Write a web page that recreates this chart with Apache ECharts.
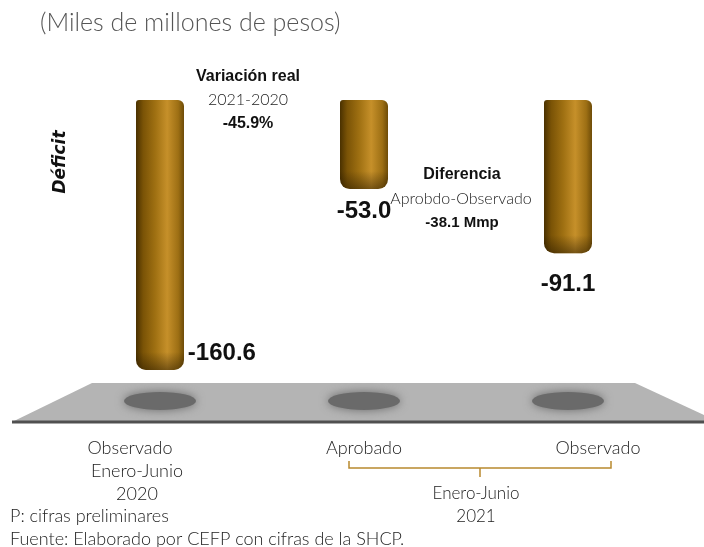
<!DOCTYPE html>
<html>
<head>
<meta charset="utf-8">
<script src="https://cdn.jsdelivr.net/npm/echarts@6/dist/echarts.min.js"></script>
<style>
html,body{margin:0;padding:0;background:#fff;}
#chart{width:704px;height:547px;}
</style>
</head>
<body>
<div id="chart"></div>
<script>
// ---- data ----
const categories = ['Observado 2020', 'Aprobado 2021', 'Observado 2021'];
const values = [-160.6, -53.0, -91.1];
const axisLines = [
  ['Observado', 'Enero-Junio', '2020'],
  ['Aprobado'],
  ['Observado']
];
const titleText = '(Miles de millones de pesos)';
const deficitText = 'Déficit';
const variacionLines = ['Variación real', '2021-2020', '-45.9%'];
const diferenciaLines = ['Diferencia', 'Aprobdo-Observado', '-38.1 Mmp'];
const groupLines = ['Enero-Junio', '2021'];
const noteLines = ['P: cifras preliminares', 'Fuente: Elaborado por CEFP con cifras de la SHCP.'];

const BOLD = "'Liberation Sans',Arial,sans-serif";
const LIGHT = "Lato,'Open Sans',sans-serif";
const Y_MIN = -170, GRID_H = 285.8;

const chart = echarts.init(document.getElementById('chart'));

const barGrad = new echarts.graphic.LinearGradient(0, 0, 1, 0, [
  {offset: 0, color: '#4a3100'},
  {offset: 0.15, color: '#7a5306'},
  {offset: 0.4, color: '#9f7012'},
  {offset: 0.65, color: '#c6902a'},
  {offset: 0.88, color: '#9d6f14'},
  {offset: 1, color: '#6e4c08'}
]);
function bottomShade(v) {
  const h = Math.abs(v) / -Y_MIN * GRID_H;
  const start = Math.max(0, 1 - 18 / h);
  return new echarts.graphic.LinearGradient(0, 0, 0, 1, [
    {offset: 0, color: 'rgba(40,25,0,0)'},
    {offset: start, color: 'rgba(40,25,0,0)'},
    {offset: 1, color: 'rgba(40,25,0,0.5)'}
  ]);
}

const labelPos = [
  {position: ['108%', '94%'], align: 'left', verticalAlign: 'middle'},
  {position: 'bottom', distance: 10},
  {position: 'bottom', distance: 19}
];

function axisFmt(value, idx) {
  const lines = axisLines[idx];
  if (idx === 0) {
    return lines.map((l, i) => i === 0 ? '{a|' + l + '}' : '{b|' + l + '}').join('\n');
  }
  if (idx === 2) return '{c|' + lines[0] + '}';
  return '{n|' + lines[0] + '}';
}

const base = {fontFamily: LIGHT, fontWeight: 300, fontSize: 18, color: '#222', lineHeight: 23};
const lblRich = {
  a: Object.assign({padding: [0, 60, 0, 0]}, base),
  b: Object.assign({padding: [0, 46, 0, 0]}, base),
  c: Object.assign({padding: [0, 0, 0, 60]}, base),
  n: Object.assign({}, base)
};

const option = {
  animation: false,
  grid: [
    {left: 58, right: 34, top: 100, height: GRID_H},
    {left: 58, right: 34, top: 383, height: 39}
  ],
  xAxis: [
    {gridIndex: 0, type: 'category', data: categories, show: false},
    {gridIndex: 1, type: 'category', data: categories,
     axisLine: {show: false}, axisTick: {show: false},
     axisLabel: {margin: 15, formatter: axisFmt, rich: lblRich, interval: 0}}
  ],
  yAxis: [
    {gridIndex: 0, type: 'value', min: Y_MIN, max: 0, show: false},
    {gridIndex: 1, type: 'value', min: 0, max: 1, show: false}
  ],
  graphic: [
    {type: 'polygon', z: 0, silent: true,
     shape: {points: [[92, 383], [635, 383], [704, 415], [704, 422], [12, 422]]},
     style: {fill: '#b4b4b4'}},
    {type: 'line', z: 1, silent: true,
     shape: {x1: 12, y1: 422, x2: 704, y2: 422},
     style: {stroke: '#505050', lineWidth: 3}},
    {type: 'text', x: 40, y: 23, z: 5,
     style: {text: titleText, font: '300 25px ' + LIGHT, fill: '#555', verticalAlign: 'middle'}},
    {type: 'text', x: 61, y: 162, rotation: Math.PI / 2, z: 5,
     style: {text: deficitText, font: 'italic bold 17px ' + "'DejaVu Sans',sans-serif", fill: '#111', align: 'center', verticalAlign: 'middle'}},
    {type: 'text', x: 248, y: 77, z: 5, style: {text: variacionLines[0], font: 'bold 16px ' + BOLD, fill: '#111', align: 'center', verticalAlign: 'middle'}},
    {type: 'text', x: 248, y: 100, z: 5, style: {text: variacionLines[1], font: '300 16px ' + LIGHT, fill: '#222', align: 'center', verticalAlign: 'middle'}},
    {type: 'text', x: 248, y: 124, z: 5, style: {text: variacionLines[2], font: 'bold 16px ' + BOLD, fill: '#111', align: 'center', verticalAlign: 'middle'}},
    {type: 'text', x: 462, y: 175, z: 5, style: {text: diferenciaLines[0], font: 'bold 16px ' + BOLD, fill: '#111', align: 'center', verticalAlign: 'middle'}},
    {type: 'text', x: 461, y: 199, z: 5, style: {text: diferenciaLines[1], font: '300 16px ' + LIGHT, fill: '#222', align: 'center', verticalAlign: 'middle'}},
    {type: 'text', x: 462, y: 223, z: 5, style: {text: diferenciaLines[2], font: 'bold 15px ' + BOLD, fill: '#111', align: 'center', verticalAlign: 'middle'}},
    {type: 'polyline', z: 5, silent: true,
     shape: {points: [[349, 461], [349, 468], [611, 468], [611, 461]]},
     style: {stroke: '#b8892e', lineWidth: 1.5, fill: null}},
    {type: 'line', z: 5, silent: true,
     shape: {x1: 480, y1: 468, x2: 480, y2: 477},
     style: {stroke: '#b8892e', lineWidth: 1.5}},
    {type: 'text', x: 476, y: 494, z: 5, style: {text: groupLines[0], font: '300 17px ' + LIGHT, fill: '#222', align: 'center', verticalAlign: 'middle'}},
    {type: 'text', x: 476, y: 517, z: 5, style: {text: groupLines[1], font: '300 17px ' + LIGHT, fill: '#222', align: 'center', verticalAlign: 'middle'}},
    {type: 'text', x: 10, y: 516, z: 5, style: {text: noteLines[0], font: '300 18px ' + LIGHT, fill: '#222', verticalAlign: 'middle'}},
    {type: 'text', x: 10, y: 539, z: 5, style: {text: noteLines[1], font: '300 18px ' + LIGHT, fill: '#222', verticalAlign: 'middle'}}
  ],
  series: [
    {
      type: 'bar', xAxisIndex: 0, yAxisIndex: 0, barWidth: 48, z: 3,
      data: values.map((v, i) => ({
        value: v,
        label: Object.assign({show: true}, labelPos[i])
      })),
      itemStyle: {color: barGrad, borderRadius: [3, 6, 10, 10]},
      label: {
        show: true, fontFamily: BOLD, fontWeight: 'bold', fontSize: 24, color: '#111',
        formatter: p => p.value.toFixed(1)
      }
    },
    {
      type: 'bar', xAxisIndex: 0, yAxisIndex: 0, barWidth: 48, barGap: '-100%', z: 4,
      data: values.map(v => ({value: v, itemStyle: {color: bottomShade(v)}})),
      itemStyle: {borderRadius: [3, 6, 10, 10]},
      silent: true
    },
    {
      type: 'scatter', xAxisIndex: 1, yAxisIndex: 1, z: 2, silent: true,
      symbol: 'circle', symbolSize: [72, 18],
      data: categories.map((c, i) => [i, 0.54]),
      itemStyle: {color: '#6a6a6a', shadowBlur: 10, shadowColor: '#6a6a6a', opacity: 1}
    }
  ]
};
chart.setOption(option);
</script>
</body>
</html>
